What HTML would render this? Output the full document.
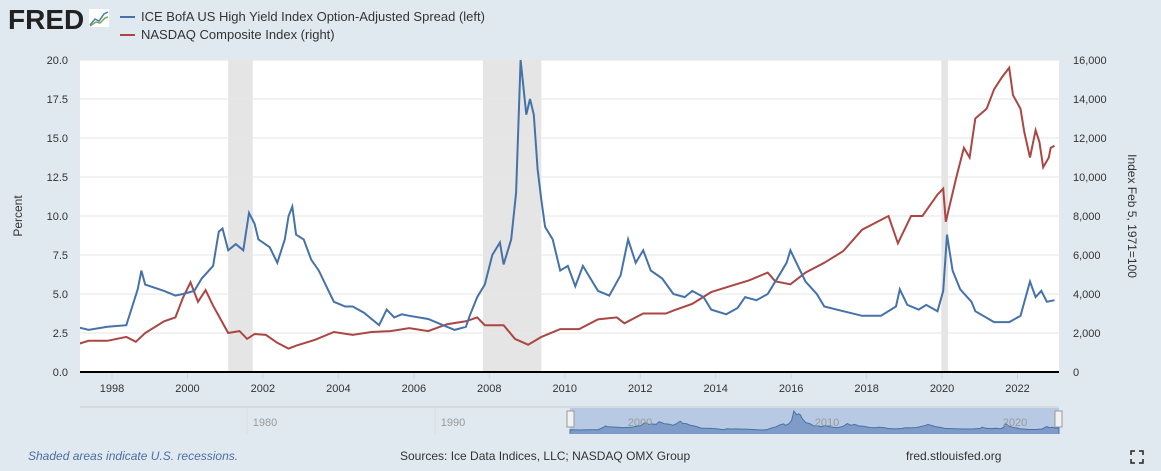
<!DOCTYPE html>
<html><head><meta charset="utf-8"><style>
body{margin:0;background:#e1e9f0;font-family:"Liberation Sans",sans-serif;}
svg{display:block}
</style></head><body>
<svg id="c" width="1161" height="471">
<defs><clipPath id="pc"><rect x="80" y="55" width="979" height="320"/></clipPath></defs>
<rect width="1161" height="471" fill="#e1e9f0"/>
<text x="8" y="29" font-size="28" font-weight="bold" fill="#222">FRED</text>
<g><rect x="89" y="9" width="20" height="18" fill="#fff"/><polyline points="90,25 95,19 99,21 104,14 108,12" fill="none" stroke="#4a7cb5" stroke-width="1.5"/><polyline points="90,26 96,22 100,23 105,18 108,17" fill="none" stroke="#7aa85a" stroke-width="1.5"/></g>
<line x1="120" y1="17" x2="135" y2="17" stroke="#4572a7" stroke-width="2"/>
<text x="141" y="21" font-size="13" fill="#333">ICE BofA US High Yield Index Option-Adjusted Spread (left)</text>
<line x1="120" y1="35" x2="135" y2="35" stroke="#aa4643" stroke-width="2"/>
<text x="141" y="39" font-size="13" fill="#333">NASDAQ Composite Index (right)</text>
<rect x="80" y="60" width="979" height="312" fill="#fff"/>
<g id="rec" clip-path="url(#pc)"></g><g id="grid"></g><g id="axes"></g><g id="series" clip-path="url(#pc)"></g>
<line x1="80" y1="372" x2="1059" y2="372" stroke="#000" stroke-width="2"/>
<text transform="translate(22,216) rotate(-90)" text-anchor="middle" font-size="12" fill="#333">Percent</text>
<text transform="translate(1128,216) rotate(90)" text-anchor="middle" font-size="12" fill="#333">Index Feb 5, 1971=100</text>
<g>
<line x1="80" y1="407" x2="1059" y2="407" stroke="#ccc"/>
<rect x="570" y="408" width="489" height="26" fill="#b8c9e3"/>
<polyline id="nav" fill="#7f9cc8" stroke="#4572a7" stroke-width="1"/>
<line x1="247" y1="407" x2="247" y2="434" stroke="#ddd"/><line x1="435" y1="407" x2="435" y2="434" stroke="#ddd"/>
<text x="265" y="426" font-size="11" fill="#999" text-anchor="middle">1980</text>
<text x="453" y="426" font-size="11" fill="#999" text-anchor="middle">1990</text>
<text x="640" y="426" font-size="11" fill="#999" text-anchor="middle">2000</text>
<text x="827" y="426" font-size="11" fill="#999" text-anchor="middle">2010</text>
<text x="1015" y="426" font-size="11" fill="#999" text-anchor="middle">2020</text>
<rect x="567" y="411" width="7" height="16" fill="#f2f2f2" stroke="#999"/>
<rect x="1055" y="411" width="7" height="16" fill="#f2f2f2" stroke="#999"/>
</g>
<text x="28" y="460" font-size="12" font-style="italic" fill="#4a6fa5">Shaded areas indicate U.S. recessions.</text>
<text x="400" y="460" font-size="12" fill="#333">Sources: Ice Data Indices, LLC; NASDAQ OMX Group</text>
<text x="906" y="460" font-size="12" fill="#333">fred.stlouisfed.org</text>
<g stroke="#222" stroke-width="1.5" fill="none"><path d="M1131,455v-4h4M1139,451h4v4M1143,459v4h-4M1135,463h-4v-4"/></g>
</svg>
<script>
const hyDates=[1997.0,1997.5,1998.0,1998.5,1998.8,1998.9,1999.0,1999.5,1999.8,2000.0,2000.3,2000.5,2000.8,2000.95,2001.05,2001.2,2001.4,2001.6,2001.75,2001.9,2002.0,2002.3,2002.5,2002.7,2002.8,2002.9,2003.0,2003.2,2003.4,2003.6,2003.8,2004.0,2004.3,2004.5,2004.8,2005.0,2005.2,2005.4,2005.6,2005.8,2006.0,2006.5,2007.0,2007.2,2007.5,2007.6,2007.8,2008.0,2008.2,2008.4,2008.5,2008.7,2008.83,2008.95,2009.1,2009.2,2009.3,2009.4,2009.5,2009.6,2009.8,2010.0,2010.2,2010.4,2010.6,2010.8,2011.0,2011.3,2011.6,2011.8,2012.0,2012.2,2012.4,2012.7,2013.0,2013.3,2013.5,2013.8,2014.0,2014.4,2014.7,2014.9,2015.2,2015.5,2015.8,2016.0,2016.1,2016.3,2016.5,2016.8,2017.0,2017.5,2018.0,2018.5,2018.9,2019.0,2019.2,2019.5,2019.7,2020.0,2020.15,2020.25,2020.4,2020.6,2020.9,2021.0,2021.5,2021.9,2022.2,2022.45,2022.6,2022.75,2022.9,2023.1];
const hyValues=[3.0,2.7,2.9,3.0,5.3,6.5,5.6,5.2,4.9,5.0,5.2,6.0,6.8,9.0,9.2,7.8,8.2,7.8,10.2,9.5,8.5,8.0,7.0,8.5,10.0,10.6,8.8,8.5,7.2,6.5,5.5,4.5,4.2,4.2,3.8,3.4,3.0,4.0,3.5,3.7,3.6,3.4,2.9,2.7,2.9,3.6,4.8,5.6,7.5,8.3,6.9,8.5,11.5,20.0,16.5,17.5,16.5,13.0,11.0,9.3,8.5,6.5,6.8,5.5,6.8,6.0,5.2,4.9,6.2,8.5,7.0,7.8,6.5,6.0,5.0,4.8,5.2,4.8,4.0,3.7,4.1,4.8,4.6,5.0,6.2,7.0,7.8,6.8,5.8,5.0,4.2,3.9,3.6,3.6,4.2,5.3,4.3,4.0,4.3,3.9,5.2,8.8,6.5,5.3,4.5,3.9,3.2,3.2,3.6,5.8,4.8,5.2,4.5,4.6];
const ndDates=[1997.0,1997.5,1998.0,1998.5,1998.75,1999.0,1999.5,1999.8,2000.0,2000.2,2000.4,2000.6,2000.8,2001.0,2001.2,2001.5,2001.7,2001.9,2002.2,2002.5,2002.8,2003.0,2003.5,2004.0,2004.5,2005.0,2005.5,2006.0,2006.5,2007.0,2007.5,2007.8,2008.0,2008.5,2008.8,2009.15,2009.5,2010.0,2010.5,2011.0,2011.5,2011.7,2012.2,2012.8,2013.0,2013.5,2014.0,2014.5,2015.0,2015.5,2015.7,2016.1,2016.5,2017.0,2017.5,2018.0,2018.7,2018.95,2019.3,2019.6,2020.0,2020.15,2020.22,2020.5,2020.7,2020.85,2021.0,2021.3,2021.5,2021.7,2021.9,2022.0,2022.2,2022.3,2022.45,2022.6,2022.7,2022.8,2022.95,2023.0,2023.1];
const ndValues=[1300,1600,1600,1800,1550,2000,2600,2800,3800,4600,3600,4200,3400,2700,2000,2100,1700,1950,1900,1500,1200,1350,1650,2050,1900,2050,2100,2250,2100,2450,2600,2800,2400,2400,1700,1400,1800,2200,2200,2700,2800,2500,3000,3000,3150,3500,4100,4400,4700,5100,4650,4500,5100,5600,6200,7300,8000,6600,8000,8000,9100,9400,7700,10000,11500,11000,13000,13500,14500,15100,15600,14200,13500,12300,11000,12400,11800,10500,11000,11500,11600];
const recessions=[[2001.2,2001.85],[2007.95,2009.5],[2020.1,2020.28]];
const leftTicks=[0,2.5,5,7.5,10,12.5,15,17.5,20];
const rightTicks=[0,2000,4000,6000,8000,10000,12000,14000,16000];
const yearTicks=[1998,2000,2002,2004,2006,2008,2010,2012,2014,2016,2018,2020,2022];
const NS='http://www.w3.org/2000/svg';
const X=t=>112+(t-1998)*37.73;
const XD=t=>X(t-0.12);
const YL=v=>372-v/20*312;
const YR=v=>372-v/16000*312;
function mk(tag,attrs,parent){const e=document.createElementNS(NS,tag);for(const k in attrs)e.setAttribute(k,attrs[k]);document.getElementById(parent).appendChild(e);return e;}
recessions.forEach(r=>{const e=mk('rect',{x:XD(r[0]),y:60,width:XD(r[1])-XD(r[0]),height:312,fill:'#e5e5e5'},'rec');

});
leftTicks.forEach((v,i)=>{
 const g=mk('line',{x1:80,x2:1059,y1:YL(v),y2:YL(v),stroke:'#e6e6e6'},'grid');
 
 
 const t=mk('text',{x:68,y:YL(v)+4,'text-anchor':'end','font-size':11,fill:'#333'},'axes');t.textContent=v.toFixed(1);
 
 
 const r=mk('text',{x:1073,y:YR(rightTicks[i])+4,'font-size':11,fill:'#333'},'axes');r.textContent=rightTicks[i].toLocaleString('en-US');
 
 
});
yearTicks.forEach(y=>{
 const l=mk('line',{x1:X(y),x2:X(y),y1:372,y2:379,stroke:'#ccd6eb'},'axes');
 
 
 const t=mk('text',{x:X(y),y:392,'text-anchor':'middle','font-size':11,fill:'#333'},'axes');t.textContent=y;
 
 
});
const nd=mk('polyline',{points:ndDates.map((d,i)=>XD(d).toFixed(1)+','+YR(ndValues[i]).toFixed(1)).join(' '),fill:'none',stroke:'#aa4643','stroke-width':2},'series');


const hy=mk('polyline',{points:hyDates.map((d,i)=>XD(d).toFixed(1)+','+YL(hyValues[i]).toFixed(1)).join(' '),fill:'none',stroke:'#4572a7','stroke-width':2},'series');


const NX=t=>570+(t-1997)*(489/26.1), NY=v=>433-v*1.1;
const pts=hyDates.map((d,i)=>NX(d).toFixed(1)+','+NY(hyValues[i]).toFixed(1));
document.getElementById('nav').setAttribute('points','570,434 '+pts.join(' ')+' 1059,434');
</script>
</body></html>
